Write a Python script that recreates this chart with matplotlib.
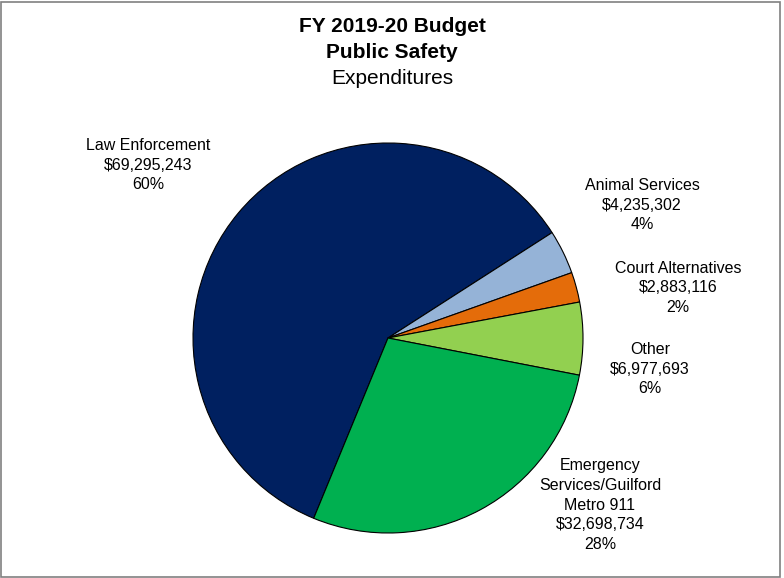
import matplotlib
matplotlib.use("Agg")
import matplotlib.pyplot as plt
from matplotlib.patches import Rectangle

plt.rcParams['font.family'] = ['Liberation Sans', 'DejaVu Sans']

# data, clockwise from the Law Enforcement slice
categories = ["Law Enforcement", "Animal Services", "Court Alternatives", "Other",
              "Emergency\nServices/Guilford\nMetro 911"]
amounts = [69295243, 4235302, 2883116, 6977693, 32698734]
percents = ["60%", "4%", "2%", "6%", "28%"]
colors = ["#002060", "#95B3D7", "#E46C0A", "#92D050", "#00B050"]

W, H = 784, 578
cx, cy, r = 388, 338, 195  # pie centre / radius in pixels

fig = plt.figure(figsize=(W / 100, H / 100), dpi=100)
ax = fig.add_axes([(cx - r) / W, (H - cy - r) / H, 2 * r / W, 2 * r / H])
ax.pie(amounts, colors=colors, startangle=247.6, counterclock=False,
       wedgeprops=dict(edgecolor="black", linewidth=0.8))
ax.set_xlim(-1, 1)
ax.set_ylim(-1, 1)
ax.set_aspect("equal")
ax.axis("off")

# label positions in pixels (centre of text block)
label_pos = [(148, 165), (642, 205), (678, 288), (650, 369), (600, 505)]
for name, amt, pct, (px, py) in zip(categories, amounts, percents, label_pos):
    txt = f"{name}\n${amt:,}\n{pct}"
    fig.text(px / W, 1 - py / H, txt, ha="center", va="center",
             fontsize=11.5, linespacing=1.38, color="black")

# title
fig.text(392 / W, 1 - 27 / H, "FY 2019-20 Budget", ha="center", va="center",
         fontsize=15, fontweight="bold")
fig.text(392 / W, 1 - 52 / H, "Public Safety", ha="center", va="center",
         fontsize=15, fontweight="bold")
fig.text(392 / W, 1 - 78 / H, "Expenditures", ha="center", va="center",
         fontsize=15)

# grey chart border
fig.patches.append(Rectangle((1 / W, 1 / H), (W - 5) / W, (H - 3) / H,
                             transform=fig.transFigure, fill=False,
                             edgecolor="#808080", linewidth=1.2))

fig.savefig("out.png", dpi=100)
